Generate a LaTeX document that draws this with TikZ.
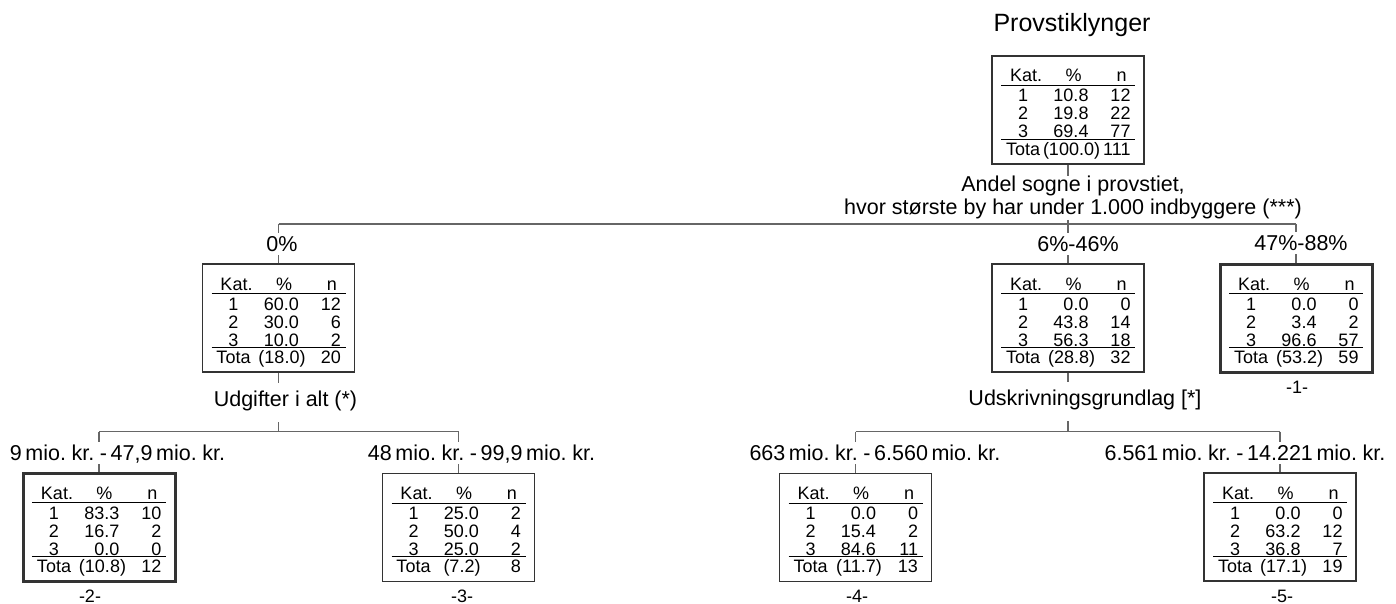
\documentclass[tikz,border=0pt]{standalone}
\usepackage{fontspec}
\setmainfont{Liberation Sans}
\newfontfamily\miofont[WordSpace=0.6]{Liberation Sans}
\usepackage{array}
\definecolor{wiregray}{gray}{0.4}
\definecolor{framegray}{gray}{0.2}
\setlength{\arrayrulewidth}{0.6pt}
\setlength{\tabcolsep}{0pt}
% category table of one tree node: % and n for cat. 1-3, then total
\newcommand{\kattab}[8]{%
  \begin{tabular}{@{}wc{22pt}wr{21.75pt}wr{21pt}@{\hspace{2.25pt}}}
    \rule{0pt}{11.4pt}\hspace{3pt}Kat. & \makebox[0pt]{\%}\kern7.5pt & n\kern2pt\\[-1.2pt] \hline
    \rule{0pt}{7.9pt}1 & #1 & #2\\
    2 & #3 & #4\\
    3 & #5 & #6\\[-2.4pt] \hline
    \rule{0pt}{7.8pt}Tota & \makebox[0pt]{(#7)}\kern8.5pt & #8
  \end{tabular}}

\begin{document}
\begin{tikzpicture}[x=0.5pt, y=-0.5pt]
  \tikzstyle{kat} = [draw=framegray, line width=0.75pt, minimum width=76pt, minimum height=54pt, inner sep=0pt, font=\fontsize{9}{9}\selectfont]
  \tikzstyle{term} = [kat, line width=1.5pt]
  \tikzstyle{split} = [font=\fontsize{10.75}{11.5}\selectfont, anchor=base, inner xsep=0pt, inner ysep=1pt, text height=10.5pt, text depth=7pt]
  \tikzstyle{cut} = [split, text height=8pt, text depth=1pt]
  \tikzstyle{miocut} = [cut, font=\miofont\fontsize{10.75}{11.5}\selectfont]
  \tikzstyle{nr} = [font=\fontsize{9}{9}\selectfont, anchor=base, inner sep=0pt]
  \tikzstyle{conn} = [draw=wiregray, line width=0.75pt]
  \useasboundingbox (0,0) rectangle (1396,604);

  % root and first split
  \draw (1072,32) node[anchor=base, inner sep=0pt, font=\fontsize{12.5}{14}\selectfont] (title) {Provstiklynger};
  \draw (1068,110) node[kat] (prov) {\kattab{10.8}{12}{19.8}{22}{69.4}{77}{100.0}{111}};
  \draw (1073,176) node[anchor=north, inner sep=0pt, align=center, font=\fontsize{10.75}{11.5}\selectfont] (andel) {Andel sogne i provstiet,\\hvor største by har under 1.000 indbyggere (***)};

  \draw (278.5,318) node[kat] (p0) {\kattab{60.0}{12}{30.0}{6}{10.0}{2}{18.0}{20}};
  \draw (1068,318) node[kat] (p6) {\kattab{0.0}{0}{43.8}{14}{56.3}{18}{28.8}{32}};
  \draw (1296,318) node[term] (p47) {\kattab{0.0}{0}{3.4}{2}{96.6}{57}{53.2}{59}};
  \draw (282,251) node[cut] (c0) {0\%};
  \draw (1078,251) node[cut] (c6) {6\%-46\%};
  \draw (1301,250) node[cut] (c47) {47\%-88\%};
  \coordinate (bar) at (1068,224);

  \draw[conn] (prov.south) -- (prov.south |- andel.north);
  \draw[conn] (prov.south |- andel.south) -- (bar);
  \draw[conn] (p0.north |- bar) -- (p47.north |- bar);
  \foreach \n/\c in {p0/c0, p6/c6, p47/c47} {
    \draw[conn] (\n.north |- bar) -- (\n.north |- \c.north);
    \draw[conn] (\n.north |- \c.south) -- (\n.north);
  }

  % Udgifter i alt
  \draw (285.5,406) node[split] (udg) {Udgifter i alt (*)};
  \draw (99,527) node[term] (u9) {\kattab{83.3}{10}{16.7}{2}{0.0}{0}{10.8}{12}};
  \draw (458.5,527.5) node[kat] (u48) {\kattab{25.0}{2}{50.0}{4}{25.0}{2}{7.2}{8}};
  \draw (117.5,460) node[miocut] (c9) {9 mio. kr. - 47,9 mio. kr.};
  \draw (481.5,460) node[miocut] (c48) {48 mio. kr. - 99,9 mio. kr.};
  \coordinate (barU) at (278.5,431.5);

  \draw[conn] (p0.south) -- (p0.south |- udg.north);
  \draw[conn] (p0.south |- udg.south) -- (barU);
  \draw[conn] (u9.north |- barU) -- (u48.north |- barU);
  \foreach \n/\c in {u9/c9, u48/c48} {
    \draw[conn] (\n.north |- barU) -- (\n.north |- \c.north);
    \draw[conn] (\n.north |- \c.south) -- (\n.north);
  }

  % Udskrivningsgrundlag
  \draw (1085,405) node[split] (uds) {Udskrivningsgrundlag [*]};
  \draw (855.5,527.5) node[kat] (s663) {\kattab{0.0}{0}{15.4}{2}{84.6}{11}{11.7}{13}};
  \draw (1280,527) node[kat] (s6561) {\kattab{0.0}{0}{63.2}{12}{36.8}{7}{17.1}{19}};
  \draw (875,460) node[miocut] (c663) {663 mio. kr. - 6.560 mio. kr.};
  \draw (1245,460) node[miocut] (c6561) {6.561 mio. kr. - 14.221 mio. kr.};
  \coordinate (barS) at (1068,431.5);

  \draw[conn] (p6.south) -- (p6.south |- uds.north);
  \draw[conn] (p6.south |- uds.south) -- (barS);
  \draw[conn] (s663.north |- barS) -- (s6561.north |- barS);
  \foreach \n/\c in {s663/c663, s6561/c6561} {
    \draw[conn] (\n.north |- barS) -- (\n.north |- \c.north);
    \draw[conn] (\n.north |- \c.south) -- (\n.north);
  }

  % terminal node numbers
  \draw (1297,393) node[nr] (nr1) {-1-};
  \draw (90,602) node[nr] (nr2) {-2-};
  \draw (462,602) node[nr] (nr3) {-3-};
  \draw (857,602) node[nr] (nr4) {-4-};
  \draw (1282,602) node[nr] (nr5) {-5-};
\end{tikzpicture}
\end{document}
